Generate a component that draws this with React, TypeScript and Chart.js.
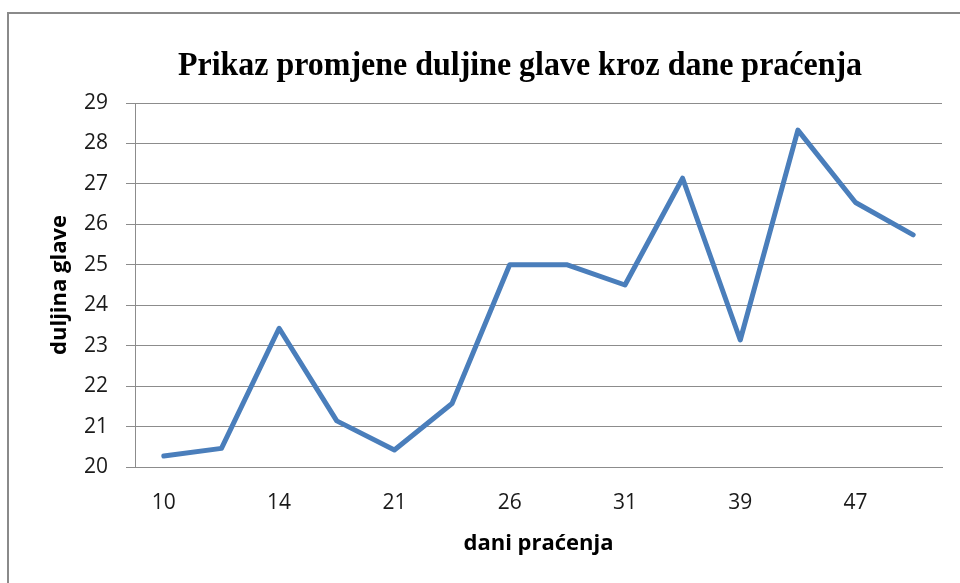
import React, { useEffect, useRef } from "react";
import { Chart, registerables } from "chart.js";

Chart.register(...registerables);

const chartTitle = "Prikaz promjene duljine glave kroz dane praćenja";
const xAxisTitle = "dani praćenja";
const yAxisTitle = "duljina glave";
const days = ["10", "12", "14", "17", "21", "24", "26", "28", "31", "35", "39", "43", "47", "50"];
const headLength = [20.27, 20.46, 23.43, 21.14, 20.42, 21.57, 25.0, 25.0, 24.5, 27.14, 23.14, 28.33, 26.54, 25.74];
const yMin = 20;
const yMax = 29;

const titlePlugin = {
  id: "serifTitle",
  afterDraw(chart: any) {
    const ctx = chart.ctx;
    ctx.save();
    ctx.translate(520, 75);
    ctx.scale(0.94, 1);
    ctx.font = "bold 34px 'Liberation Serif', serif";
    ctx.fillStyle = "#000";
    ctx.textAlign = "center";
    ctx.textBaseline = "alphabetic";
    ctx.fillText(chartTitle, 0, 0);
    ctx.restore();
  },
};

export default function App() {
  const ref = useRef<HTMLCanvasElement | null>(null);

  useEffect(() => {
    if (!ref.current) return;
    const gridColor = "#8c8c8c";
    const chart = new Chart(ref.current, {
      type: "line",
      data: {
        labels: days,
        datasets: [
          {
            data: headLength,
            borderColor: "#4a7ebb",
            borderWidth: 5,
            pointRadius: 0,
            borderJoinStyle: "round",
            borderCapStyle: "round",
            tension: 0,
            fill: false,
          },
        ],
      },
      plugins: [titlePlugin],
      options: {
        animation: false,
        responsive: false,
        layout: { padding: { left: 0, right: 18, top: 103, bottom: 0 } },
        plugins: {
          legend: { display: false },
          tooltip: { enabled: false },
          title: { display: false },
        },
        scales: {
          x: {
            offset: true,
            grid: { display: false },
            border: { display: true, color: gridColor, width: 1 },
            ticks: {
              autoSkip: false,
              maxRotation: 0,
              color: "#1a1a1a",
              padding: 15,
              font: { family: "'Open Sans', sans-serif", size: 21 },
              callback: (_v: any, i: number) => (i % 2 === 0 ? days[i] : ""),
            },
            title: {
              display: true,
              text: xAxisTitle,
              color: "#000",
              font: { family: "'Open Sans', sans-serif", size: 22, weight: "bold" },
              padding: { top: 0, bottom: 26 },
            },
            afterFit: (s: any) => {
              s.height = 116;
            },
          },
          y: {
            min: yMin,
            max: yMax,
            grid: { color: gridColor, lineWidth: 1, tickLength: 9, drawTicks: true },
            border: { display: true, color: gridColor, width: 1 },
            ticks: {
              stepSize: 1,
              color: "#1a1a1a",
              padding: 18,
              font: { family: "'Open Sans', sans-serif", size: 21 },
            },
            title: {
              display: true,
              text: yAxisTitle,
              color: "#000",
              font: { family: "'Open Sans', sans-serif", size: 22, weight: "bold" },
              padding: { top: 47, bottom: 0 },
            },
            afterFit: (s: any) => {
              s.width = 135;
            },
          },
        },
      },
    });
    return () => chart.destroy();
  }, []);

  return (
    <div style={{ position: "fixed", left: 0, top: 0, width: 960, height: 583, background: "#fff", overflow: "hidden" }}>
      <div
        style={{
          position: "absolute",
          left: 7,
          top: 12,
          width: 980,
          height: 600,
          borderLeft: "2px solid #8a8a8a",
          borderTop: "2px solid #8a8a8a",
        }}
      />
      <canvas ref={ref} width={960} height={583} style={{ position: "absolute", left: 0, top: 0 }} />
    </div>
  );
}
